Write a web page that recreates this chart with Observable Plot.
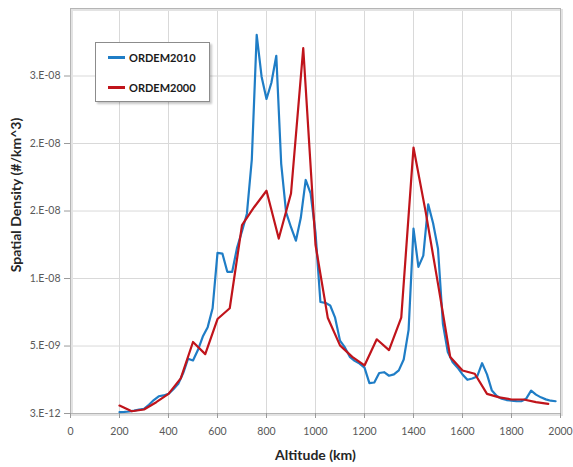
<!DOCTYPE html>
<html>
<head>
<meta charset="utf-8">
<script src="https://cdn.jsdelivr.net/npm/d3@7"></script>
<script src="https://cdn.jsdelivr.net/npm/@observablehq/plot@0.6"></script>
<style>
  body { margin: 0; background: #fff; }
  #chart { position: relative; width: 573px; height: 467px; }
  .legend {
    position: absolute; left: 95px; top: 42px; width: 113px; height: 58px;
    border: 1px solid #8c8c8c; background: #fff;
    box-shadow: 2px 2px 2px rgba(0,0,0,0.22);
    font: bold 11px Lato, "Liberation Sans", sans-serif; color: #1a1a1a;
  }
  .legend .item { position: absolute; left: 12px; height: 14px; display: flex; align-items: center; }
  .legend .swatch { width: 17px; height: 3px; margin-right: 4px; }
</style>
</head>
<body>
<div id="chart"></div>
<script>
// ORDEM2010 model: altitude (km) and spatial density (×1e-9 objects per km^3)
const altitude2010 = [200, 220, 240, 260, 280, 300, 320, 340, 360, 380,
  400, 420, 440, 460, 480, 500, 520, 540, 560, 580,
  600, 620, 640, 660, 680, 700, 720, 740, 760, 780,
  800, 820, 840, 860, 880, 900, 920, 940, 960, 980,
  1000, 1020, 1040, 1060, 1080, 1100, 1120, 1140, 1160, 1180,
  1200, 1220, 1240, 1260, 1280, 1300, 1320, 1340, 1360, 1380,
  1400, 1420, 1440, 1460, 1480, 1500, 1520, 1540, 1560, 1580,
  1600, 1620, 1640, 1660, 1680, 1700, 1720, 1740, 1760, 1780,
  1800, 1820, 1840, 1860, 1880, 1900, 1920, 1940, 1960, 1980];
const density2010 = [0.10, 0.12, 0.15, 0.22, 0.30, 0.35, 0.65, 1.00, 1.28, 1.34,
  1.46, 1.80, 2.20, 3.00, 4.06, 3.93, 4.70, 5.70, 6.40, 7.80,
  11.9, 11.85, 10.5, 10.5, 12.3, 13.5, 14.8, 18.8, 28.05, 24.95,
  23.3, 24.5, 26.5, 18.5, 14.9, 13.8, 12.8, 14.5, 17.3, 16.3,
  13.4, 8.26, 8.2, 8.0, 7.1, 5.4, 4.9, 4.2, 3.9, 3.7,
  3.4, 2.25, 2.3, 3.0, 3.06, 2.8, 2.9, 3.2, 4.0, 6.2,
  13.7, 10.86, 11.7, 15.5, 14.1, 12.2, 6.65, 4.55, 3.8, 3.4,
  2.9, 2.5, 2.6, 2.75, 3.73, 2.9, 1.7, 1.3, 1.1, 1.0,
  0.96, 0.92, 0.91, 1.1, 1.7, 1.4, 1.2, 1.05, 0.95, 0.91];

// ORDEM2000 model: altitude (km) and spatial density (×1e-9 objects per km^3)
const altitude2000 = [200, 250, 300, 350, 400, 450, 500, 550, 600, 650,
  700, 750, 800, 850, 900, 950, 1000, 1050, 1100, 1150,
  1200, 1250, 1300, 1350, 1400, 1450, 1500, 1550, 1600, 1650,
  1700, 1750, 1800, 1850, 1900, 1950];
const density2000 = [0.59, 0.17, 0.30, 0.84, 1.46, 2.6, 5.3, 4.4, 7.0, 7.8,
  13.95, 15.3, 16.5, 12.96, 16.3, 27.06, 12.5, 7.1, 5.05, 4.2,
  3.56, 5.5, 4.7, 7.1, 19.7, 14.9, 9.6, 4.18, 3.19, 2.95,
  1.46, 1.2, 1.04, 1.04, 0.84, 0.72];

// Axis ticks and their printed labels
const xTicks = [0, 200, 400, 600, 800, 1000, 1200, 1400, 1600, 1800, 2000];
const yTicks = [3e-12, 5e-9, 1e-8, 1.5e-8, 2e-8, 2.5e-8];
const yTickLabels = ["3.E-12", "5.E-09", "1.E-08", "2.E-08", "2.E-08", "3.E-08"];

const seriesNames = ["ORDEM2010", "ORDEM2000"];
const seriesColors = ["#1f7dc6", "#c0141b"];

const rows2010 = altitude2010.map((a, i) => ({alt: a, dens: density2010[i] * 1e-9}));
const rows2000 = altitude2000.map((a, i) => ({alt: a, dens: density2000[i] * 1e-9}));
const yLabel = d => yTickLabels[yTicks.indexOf(d)];

const chart = Plot.plot({
  width: 573,
  height: 467,
  marginLeft: 70,
  marginRight: 13,
  marginTop: 8,
  marginBottom: 54,
  style: {fontFamily: "Lato, 'Liberation Sans', sans-serif", fontSize: "10.5px", color: "#595959", background: "#fff"},
  x: {domain: [0, 2000], ticks: xTicks, label: null},
  y: {domain: [3e-12, 3e-8], ticks: yTicks, label: null},
  marks: [
    Plot.gridX(xTicks, {stroke: "#d9d9d9", strokeOpacity: 1}),
    Plot.gridY(yTicks, {stroke: "#d9d9d9", strokeOpacity: 1}),
    Plot.frame({stroke: "#e3e3e3", dx: 1.5, dy: 1.5, strokeWidth: 2}),
    Plot.frame({stroke: "#b5b5b5"}),
    Plot.axisX({ticks: xTicks, tickSize: 5, tickPadding: 9, tickFormat: d => String(d), stroke: "#9a9a9a", label: null}),
    Plot.axisY({ticks: yTicks, tickSize: 6, tickPadding: 4, tickFormat: yLabel, stroke: "#9a9a9a", label: null}),
    Plot.line(rows2010, {x: "alt", y: "dens", stroke: seriesColors[0], strokeWidth: 2.2}),
    Plot.line(rows2000, {x: "alt", y: "dens", stroke: seriesColors[1], strokeWidth: 2.2}),
    Plot.text(["Spatial Density (#/km^3)"], {
      frameAnchor: "left", textAnchor: "middle", lineAnchor: "middle",
      dx: -54, dy: -16, rotate: -90,
      fontWeight: "bold", fontSize: 14, fill: "#262626"
    }),
    Plot.text(["Altitude (km)"], {
      frameAnchor: "bottom", textAnchor: "middle", lineAnchor: "middle", dy: 42,
      fontWeight: "bold", fontSize: 14, fill: "#262626"
    })
  ]
});

const host = document.getElementById("chart");
host.appendChild(chart);

// Legend box in the upper left of the plot area
const legend = document.createElement("div");
legend.className = "legend";
seriesNames.forEach((name, i) => {
  const item = document.createElement("div");
  item.className = "item";
  item.style.top = (i === 0 ? 7 : 37) + "px";
  const sw = document.createElement("span");
  sw.className = "swatch";
  sw.style.background = seriesColors[i];
  const label = document.createElement("span");
  label.textContent = name;
  item.appendChild(sw);
  item.appendChild(label);
  legend.appendChild(item);
});
host.appendChild(legend);
</script>
</body>
</html>
